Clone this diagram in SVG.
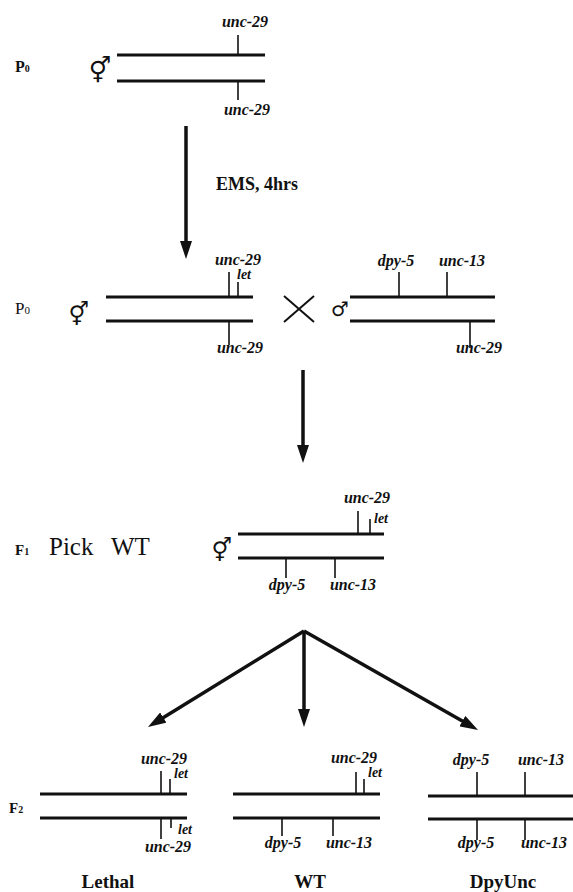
<svg xmlns="http://www.w3.org/2000/svg" width="573" height="892" viewBox="0 0 573 892">
<style>
.chr{stroke:#111;stroke-width:3;fill:none}
.tick{stroke:#111;stroke-width:1.6;fill:none}
.gene{font-family:"Liberation Serif",serif;font-weight:bold;font-style:italic;font-size:16px;text-anchor:middle;fill:#111}
.let{font-size:14px}
.lab{font-family:"Liberation Serif",serif;font-weight:bold;fill:#111}
.reg{font-family:"Liberation Serif",serif;fill:#111}
.sym{font-family:"DejaVu Sans",sans-serif;text-anchor:middle;fill:#111}
.arrow{stroke:#111;stroke-width:3.5;fill:none;marker-end:url(#ah)}
.cross{stroke:#111;stroke-width:2;fill:none}
</style>
<defs>
<marker id="ah" viewBox="0 0 18 12" refX="6" refY="6" markerWidth="18" markerHeight="12" markerUnits="userSpaceOnUse" orient="auto">
<path d="M0,0 L18,6 L0,12 z" fill="#111"/>
</marker>
</defs>
<rect width="573" height="892" fill="#fff"/>

<g id="row1-p0">
<text class="lab" x="15" y="72" font-size="16">P<tspan font-size="10">0</tspan></text>
<text class="sym" x="100" y="79" font-size="25">⚥</text>
<line class="chr" x1="117" y1="55" x2="265" y2="55"/>
<line class="chr" x1="117" y1="81" x2="265" y2="81"/>
<line class="tick" x1="238" y1="35" x2="238" y2="55"/>
<line class="tick" x1="238" y1="81" x2="238" y2="100"/>
<text class="gene" x="245" y="27">unc-29</text>
<text class="gene" x="247" y="115">unc-29</text>
</g>

<g id="ems-label">
<text class="lab" x="216" y="190" font-size="18">EMS, 4hrs</text>
</g>

<g id="row2-herm">
<text class="reg" x="15" y="314" font-size="17">P<tspan font-size="11">0</tspan></text>
<text class="sym" x="79" y="322" font-size="23">⚥</text>
<line class="chr" x1="106" y1="297" x2="253" y2="297"/>
<line class="chr" x1="106" y1="321" x2="253" y2="321"/>
<line class="tick" x1="229" y1="272" x2="229" y2="297"/>
<line class="tick" x1="238" y1="282" x2="238" y2="297"/>
<line class="tick" x1="229" y1="321" x2="229" y2="345"/>
<text class="gene" x="238" y="265">unc-29</text>
<text class="gene let" x="244" y="279">let</text>
<text class="gene" x="240" y="353">unc-29</text>
</g>

<g id="cross-sign">
<line class="cross" x1="284" y1="296" x2="314" y2="322"/>
<line class="cross" x1="284" y1="322" x2="314" y2="296"/>
</g>

<g id="row2-male">
<text class="sym" x="340" y="316" font-size="20">♂</text>
<line class="chr" x1="350" y1="297" x2="495" y2="297"/>
<line class="chr" x1="350" y1="321" x2="495" y2="321"/>
<line class="tick" x1="399" y1="272" x2="399" y2="297"/>
<line class="tick" x1="447" y1="272" x2="447" y2="297"/>
<line class="tick" x1="470" y1="321" x2="470" y2="348"/>
<text class="gene" x="396" y="266">dpy-5</text>
<text class="gene" x="462" y="266">unc-13</text>
<text class="gene" x="479" y="353">unc-29</text>
</g>

<g id="f1">
<text class="lab" x="15" y="555" font-size="15">F<tspan font-size="10">1</tspan></text>
<text class="reg" y="555" font-size="25"><tspan x="49">Pick</tspan><tspan x="111">WT</tspan></text>
<text class="sym" x="222" y="558" font-size="23">⚥</text>
<line class="chr" x1="238" y1="534" x2="384" y2="534"/>
<line class="chr" x1="238" y1="558" x2="384" y2="558"/>
<line class="tick" x1="358" y1="511" x2="358" y2="534"/>
<line class="tick" x1="370" y1="519" x2="370" y2="534"/>
<line class="tick" x1="286" y1="558" x2="286" y2="578"/>
<line class="tick" x1="335" y1="558" x2="335" y2="578"/>
<text class="gene" x="367" y="503">unc-29</text>
<text class="gene let" x="381" y="523">let</text>
<text class="gene" x="287" y="590">dpy-5</text>
<text class="gene" x="353" y="590">unc-13</text>
</g>

<g id="f2-label">
<text class="lab" x="9" y="813" font-size="15">F<tspan font-size="10">2</tspan></text>
</g>

<g id="f2-lethal">
<line class="chr" x1="40" y1="794" x2="187" y2="794"/>
<line class="chr" x1="40" y1="818" x2="187" y2="818"/>
<line class="tick" x1="161" y1="771" x2="161" y2="794"/>
<line class="tick" x1="170" y1="779" x2="170" y2="794"/>
<line class="tick" x1="161" y1="818" x2="161" y2="839"/>
<line class="tick" x1="171" y1="818" x2="171" y2="828"/>
<text class="gene" x="164" y="764">unc-29</text>
<text class="gene let" x="181" y="778">let</text>
<text class="gene let" x="185" y="834">let</text>
<text class="gene" x="168" y="852">unc-29</text>
<text class="lab" x="108" y="888" font-size="19" text-anchor="middle">Lethal</text>
</g>

<g id="f2-wt">
<line class="chr" x1="233" y1="794" x2="380" y2="794"/>
<line class="chr" x1="233" y1="818" x2="380" y2="818"/>
<line class="tick" x1="356" y1="772" x2="356" y2="794"/>
<line class="tick" x1="364" y1="779" x2="364" y2="794"/>
<line class="tick" x1="282" y1="818" x2="282" y2="836"/>
<line class="tick" x1="333" y1="818" x2="333" y2="836"/>
<text class="gene" x="354" y="763">unc-29</text>
<text class="gene let" x="375" y="777">let</text>
<text class="gene" x="283" y="848">dpy-5</text>
<text class="gene" x="349" y="848">unc-13</text>
<text class="lab" x="310" y="888" font-size="19" text-anchor="middle">WT</text>
</g>

<g id="f2-dpyunc">
<line class="chr" x1="428" y1="796" x2="573" y2="796"/>
<line class="chr" x1="428" y1="819" x2="573" y2="819"/>
<line class="tick" x1="477" y1="772" x2="477" y2="796"/>
<line class="tick" x1="525" y1="772" x2="525" y2="796"/>
<line class="tick" x1="477" y1="819" x2="477" y2="840"/>
<line class="tick" x1="525" y1="819" x2="525" y2="840"/>
<text class="gene" x="471" y="765">dpy-5</text>
<text class="gene" x="541" y="765">unc-13</text>
<text class="gene" x="476" y="848">dpy-5</text>
<text class="gene" x="544" y="848">unc-13</text>
<text class="lab" x="503" y="888" font-size="19" text-anchor="middle">DpyUnc</text>
</g>

<g id="connectors">
<line class="arrow" x1="186" y1="126" x2="186" y2="247"/>
<line class="arrow" x1="303" y1="370" x2="303" y2="451"/>
<line class="arrow" x1="304" y1="631" x2="158.2" y2="720.7"/>
<line class="arrow" x1="304" y1="631" x2="304" y2="715"/>
<line class="arrow" x1="304" y1="631" x2="467.6" y2="724.1"/>
</g>
</svg>
